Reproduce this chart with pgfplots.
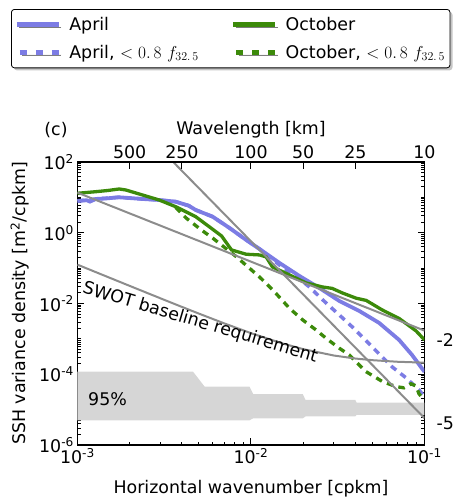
\documentclass[border=0pt]{standalone}
\usepackage{fontspec}
\setmainfont{DejaVu Sans}
\usepackage{pgfplots}
\pgfplotsset{compat=1.18}
\usetikzlibrary{shadows}

\definecolor{april}{RGB}{124,124,228}
\definecolor{october}{RGB}{60,138,10}
\definecolor{refgray}{RGB}{140,140,140}
\definecolor{band}{RGB}{214,214,214}

\begin{document}
\begin{tikzpicture}[font=\fontsize{17.4}{20}\selectfont]
\useasboundingbox (-77.5pt,-54pt) rectangle (381.5pt,445pt);

% main spectra axis
\begin{axis}[
  at={(0pt,0pt)}, anchor=south west,
  scale only axis, width=347pt, height=283pt,
  xmode=log, ymode=log,
  xmin=1e-3, xmax=1e-1, ymin=1e-6, ymax=1e2,
  clip mode=individual,
  xtick={1e-3,1e-2,1e-1},
  xticklabels={10\textsuperscript{-3},10\textsuperscript{-2},10\textsuperscript{-1}},
  ytick={1e-6,1e-4,1e-2,1,1e2},
  yticklabels={10\textsuperscript{-6},10\textsuperscript{-4},10\textsuperscript{-2},10\textsuperscript{0},10\textsuperscript{2}},
  minor xtick={2e-3,3e-3,4e-3,5e-3,6e-3,7e-3,8e-3,9e-3,2e-2,3e-2,4e-2,5e-2,6e-2,7e-2,8e-2,9e-2},
  minor ytick={2e-6,3e-6,4e-6,5e-6,6e-6,7e-6,8e-6,9e-6,1e-5,2e-5,3e-5,4e-5,5e-5,6e-5,7e-5,8e-5,9e-5,
    2e-4,3e-4,4e-4,5e-4,6e-4,7e-4,8e-4,9e-4,1e-3,2e-3,3e-3,4e-3,5e-3,6e-3,7e-3,8e-3,9e-3,
    2e-2,3e-2,4e-2,5e-2,6e-2,7e-2,8e-2,9e-2,1e-1,2e-1,3e-1,4e-1,5e-1,6e-1,7e-1,8e-1,9e-1,
    2,3,4,5,6,7,8,9,10,20,30,40,50,60,70,80,90},
  xtick pos=bottom, ytick pos=both,
  tick align=inside,
  major tick length=7pt, minor tick length=3.5pt,
  tick style={black, line width=1pt},
  axis line style={line width=1.5pt},
  xlabel={Horizontal wavenumber [cpkm]},
  ylabel={SSH variance density [m\textsuperscript{2}/cpkm]},
  xlabel style={at={(axis description cs:0.5,-0.1555)}, anchor=center},
  ylabel style={at={(axis description cs:-0.1657,0.5)}, anchor=center},
  legend columns=2,
  legend cell align=left,
  legend style={at={(axis description cs:-0.1916,1.5406)}, anchor=north west,
    draw=black, line width=0.8pt, rounded corners=3pt, fill=white,
    drop shadow={shadow xshift=2.5pt, shadow yshift=-2.5pt, fill=black!45},
    /tikz/every even column/.append style={column sep=30pt},
    row sep=9pt, inner xsep=3pt, inner ysep=6pt},
]

% 95% confidence band
\addplot[fill=band, draw=none, forget plot] coordinates {
  (0.001,1.19e-4) (0.00463,1.19e-4) (0.0054,4.5e-5) (0.0098,4.5e-5)
  (0.0103,2.74e-5) (0.0199,2.74e-5) (0.0206,1.89e-5) (0.0399,1.89e-5)
  (0.0406,1.58e-5) (0.1,1.58e-5)
  (0.1,7.1e-6) (0.0406,7.1e-6) (0.0399,6.4e-6) (0.0206,6.4e-6)
  (0.0199,5.68e-6) (0.0103,5.68e-6) (0.0098,4.99e-6) (0.001,4.99e-6)};

% April
\addplot[april, line width=3.8pt, forget plot] coordinates {
  (0.001,7.91) (0.00113,8.3) (0.00118,7.6) (0.001277,9.02) (0.00145,9.3)
  (0.001732,10.07) (0.002369,9.02) (0.00294,8.45) (0.00368,7.56)
  (0.004375,5.83) (0.0048,4.41) (0.006008,2.85) (0.00752,1.366)
  (0.00938,0.626) (0.01119,0.3486) (0.01458,0.1403) (0.019,0.0602)
  (0.02475,0.02758) (0.03226,0.01184) (0.04204,0.00618) (0.05476,0.00283)
  (0.07136,9.37e-4) (0.0847,3.53e-4) (0.1,1.17e-4)};
\addplot[april, line width=3.5pt, dash pattern=on 6.5pt off 5.5pt, forget plot] coordinates {
  (0.001,7.91) (0.001277,9.02) (0.001732,10.07) (0.002369,9.02)
  (0.00294,8.45) (0.00368,7.56) (0.004375,5.83) (0.0048,4.41)
  (0.006008,2.85) (0.00752,1.366) (0.00938,0.626) (0.01119,0.3486)
  (0.01458,0.1231) (0.019,0.04955) (0.02169,0.02944) (0.02705,0.0104)
  (0.03226,0.004764) (0.03833,0.002183) (0.04993,5.94e-4) (0.06505,1.62e-4)
  (0.0783,7.91e-5) (0.09298,3.62e-5) (0.1,2.30e-5)};

% October
\addplot[october, line width=3.3pt, forget plot] coordinates {
  (0.001,13.05) (0.001277,14.49) (0.001497,15.67) (0.001738,17.27)
  (0.0019,16.18) (0.002369,11.69) (0.002952,8.45) (0.00368,5.46)
  (0.004204,3.945) (0.0048,2.85) (0.00598,1.28) (0.006767,0.812)
  (0.007723,0.3266) (0.00938,0.247) (0.01119,0.236) (0.01223,0.2072)
  (0.01329,0.1081) (0.01665,0.0643) (0.02076,0.0382) (0.02576,0.02944)
  (0.0294,0.0267) (0.03357,0.01993) (0.0404,0.01411) (0.04612,0.01224)
  (0.05698,0.006595) (0.07136,0.003793) (0.08937,0.001683) (0.1,9.37e-4)};
\addplot[october, line width=3.3pt, dash pattern=on 6.5pt off 5.5pt, forget plot] coordinates {
  (0.00368,5.2) (0.004242,2.568) (0.005173,1.2) (0.006033,0.6995)
  (0.008222,0.2113) (0.0098,0.09936) (0.01119,0.05641) (0.01335,0.02422)
  (0.01665,0.007366) (0.01985,0.003441) (0.02369,0.001795) (0.02705,0.001046)
  (0.03226,5.46e-4) (0.03682,3.53e-4) (0.04594,1.192e-4) (0.05722,6.22e-5)
  (0.06832,4.49e-5) (0.07622,4.13e-5) (0.08364,5.36e-5) (0.08937,4.7e-5)
  (0.09298,2.79e-5) (0.1,1.89e-5)};

% reference lines
\addplot[refgray, line width=2pt, forget plot] coordinates {
  (0.001,0.1252) (0.0015,0.05576) (0.002,0.03145) (0.003,0.014089)
  (0.004,0.0080125) (0.005,0.0052) (0.007,0.002751) (0.01,0.00145)
  (0.015,7.556e-4) (0.02,5.125e-4) (0.03,3.389e-4) (0.04,2.781e-4)
  (0.05,2.5e-4) (0.07,2.255e-4) (0.1,2.125e-4)};
\addplot[refgray, line width=2pt, forget plot] coordinates {(0.001,13.6) (0.1,1.71e-3)};
\addplot[refgray, line width=2pt, forget plot] coordinates {(0.0029,280) (0.1,5.75e-6)};

\addlegendimage{legend image code/.code={\draw[april, line width=5pt] (0pt,0pt) -- (42pt,0pt); \path (50pt,0pt);}}
\addlegendentry{April}
\addlegendimage{legend image code/.code={\draw[october, line width=5pt] (0pt,0pt) -- (42pt,0pt); \path (50pt,0pt);}}
\addlegendentry{October}
\addlegendimage{legend image code/.code={\draw[april, line width=5pt, dash pattern=on 7pt off 9pt] (3pt,0pt) -- (42pt,0pt); \path (50pt,0pt);}}
\addlegendentry{April, $<0.{\,}8\ f_{32.{\,}5}$}
\addlegendimage{legend image code/.code={\draw[october, line width=5pt, dash pattern=on 7pt off 9pt] (3pt,0pt) -- (42pt,0pt); \path (50pt,0pt);}}
\addlegendentry{October, $<0.{\,}8\ f_{32.{\,}5}$}

\node[inner sep=0pt, anchor=west] at (axis cs:0.00115,2.04e-5) {95\%};
\node[inner sep=0pt, rotate=-16.5] at (axis cs:0.00509,2.83e-3) {SWOT baseline requirement};
\node[inner sep=0pt, anchor=west, xshift=12pt] at (axis cs:0.1,9.37e-4) {-2};
\node[inner sep=0pt, anchor=west, xshift=12pt] at (axis cs:0.1,4.24e-6) {-5};
\node at (axis description cs:-0.062,1.113) {(c)};
\end{axis}

% wavelength axis on top
\begin{axis}[
  at={(0pt,0pt)}, anchor=south west,
  scale only axis, width=347pt, height=283pt,
  xmode=log, xmin=1e-3, xmax=1e-1, ymin=0, ymax=1,
  axis x line*=top, axis y line=none,
  xtick={2e-3,4e-3,1e-2,2e-2,4e-2,1e-1},
  xticklabels={500,250,100,50,25,10},
  xminorticks=false,
  tick align=inside,
  major tick length=7pt,
  tick style={black, line width=1pt},
  axis line style={line width=1.5pt},
  xlabel={Wavelength [km]},
  xlabel style={at={(axis description cs:0.5,1.113)}, anchor=center},
]
\addplot[draw=none] coordinates {(0.001,0) (0.1,1)};
\end{axis}
\end{tikzpicture}
\end{document}
